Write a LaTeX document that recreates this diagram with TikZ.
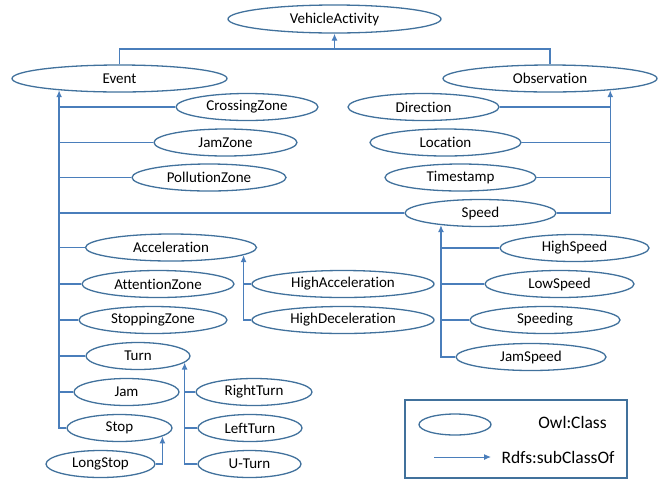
\documentclass[tikz,border=0pt]{standalone}
\usepackage{fontspec}
\setmainfont{Carlito}[Ligatures=NoCommon]
\usepackage{xcolor}
\usepackage{tikz}
\usetikzlibrary{shapes.geometric,arrows.meta}
\definecolor{owlline}{HTML}{41719C}
\definecolor{subline}{HTML}{4A7EBB}

\begin{document}
\begin{tikzpicture}[x=1pt,y=-1pt,
  owl/.style={ellipse, draw=owlline, line width=1.3pt, inner sep=0pt,
    minimum height=27, font=\fontsize{15}{18}\selectfont},
  link/.style={draw=subline, line width=1.3pt},
  sub/.style={link, -{Latex[length=7pt,width=6pt]}},
  keytext/.style={font=\fontsize{17.5}{21}\selectfont, inner sep=0pt}]
\useasboundingbox (0,0) rectangle (668,483);

% Top classes
\node[owl, minimum width=213, minimum height=28] (act) at (334.5,19) {VehicleActivity};
\node[owl, minimum width=215] (event) at (119.5,78.5) {Event};
\node[owl, minimum width=214] (obs) at (550,78.5) {Observation};
\coordinate (join) at (334.5,49);
\draw[link] (event.north) |- (join) -| (obs.north);
\draw[sub] (join) -- (act.south);

% Event subclasses
\node[owl, minimum width=142] (crossing) at (247,107) {CrossingZone};
\node[owl, minimum width=143] (jamzone) at (225.5,142.5) {JamZone};
\node[owl, minimum width=154] (pollution) at (209,177.5) {PollutionZone};
\node[owl, minimum width=171] (accel) at (171,247.5) {Acceleration};
\node[owl, minimum width=152] (attention) at (158,284) {AttentionZone};
\node[owl, minimum width=148] (stopping) at (153,320) {StoppingZone};
\node[owl, minimum width=104] (turn) at (138,356) {Turn};
\node[owl, minimum width=105] (jam) at (126.5,392) {Jam};
\node[owl, minimum width=105] (stop) at (119.5,428) {Stop};
\node[owl, minimum width=109] (longstop) at (100.5,464) {LongStop};
\node[owl, minimum width=182] (highacc) at (343,284) {HighAcceleration};
\node[owl, minimum width=182] (highdec) at (343,320) {HighDeceleration};
\node[owl, minimum width=116] (rightturn) at (254,392) {RightTurn};
\node[owl, minimum width=104] (leftturn) at (250,428) {LeftTurn};
\node[owl, minimum width=103] (uturn) at (249.5,464) {U-Turn};

% Observation subclasses
\node[owl, minimum width=151] (direction) at (423.5,107) {Direction};
\node[owl, minimum width=151] (location) at (445.5,142.5) {Location};
\node[owl, minimum width=151] (timestamp) at (460.5,177.5) {Timestamp};
\node[owl, minimum width=151] (speed) at (480.5,213) {Speed};
\node[owl, minimum width=149] (highspeed) at (574.5,248) {HighSpeed};
\node[owl, minimum width=149] (lowspeed) at (559.5,284) {LowSpeed};
\node[owl, minimum width=150] (speeding) at (545,320) {Speeding};
\node[owl, minimum width=150] (jamspeed) at (531,357) {JamSpeed};

% subClassOf Event
\draw[sub] (stop.west) -| (event.-169);
\foreach \c in {crossing,jamzone,pollution,speed,accel,attention,stopping,turn,jam}
  \draw[link] (\c.west) -- (\c.west -| event.-169);

% subClassOf Observation
\draw[sub] (speed.east) -| (obs.-11);
\foreach \c in {direction,location,timestamp}
  \draw[link] (\c.east) -- (\c.east -| obs.-11);

% subClassOf Speed
\draw[sub] (jamspeed.west) -| (speed.-163);
\foreach \c in {highspeed,lowspeed,speeding}
  \draw[link] (\c.west) -- (\c.west -| speed.-163);

% subClassOf Acceleration
\draw[sub] (highdec.west) -| (accel.-6);
\draw[link] (highacc.west) -- (highacc.west -| accel.-6);

% subClassOf Turn
\draw[sub] (uturn.west) -| (turn.-8);
\foreach \c in {rightturn,leftturn}
  \draw[link] (\c.west) -- (\c.west -| turn.-8);

% subClassOf Stop
\draw[sub] (longstop.east) -| (stop.-11);

% Legend
\node[draw=owlline, line width=1.8pt, minimum width=222, minimum height=78, inner sep=0pt] (legend) at (516,439) {};
\node[owl, minimum width=72, minimum height=21] (keyclass) at (455,424.5) {};
\node[keytext] (keyclasstext) at (572.5,422) {Owl:Class};
\coordinate (keyfrom) at (434,457);
\coordinate (keyto) at (491,457);
\draw[sub, line width=1pt] (keyfrom) -- (keyto);
\node[keytext] (keysubtext) at (558,457) {Rdfs:subClassOf};
\end{tikzpicture}
\end{document}
